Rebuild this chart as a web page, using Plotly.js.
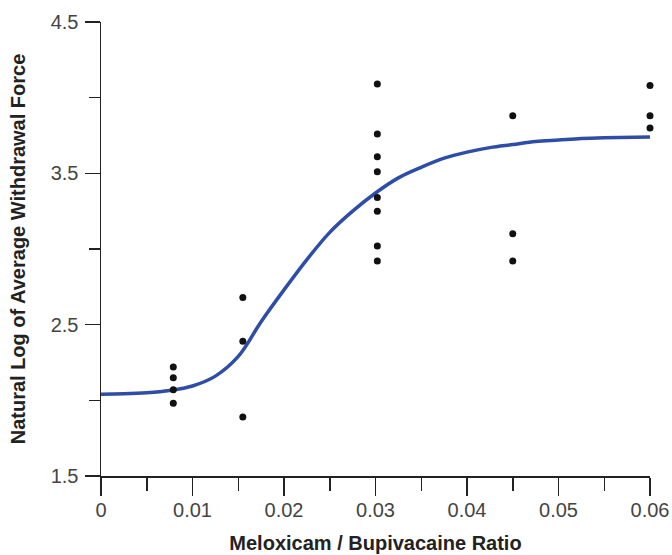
<!DOCTYPE html>
<html>
<head>
<meta charset="utf-8">
<script src="https://cdn.plot.ly/plotly-3.0.1.min.js"></script>
<style>html,body{margin:0;padding:0;background:#fff;}#chart{width:672px;height:555px;}</style>
</head>
<body>
<div id="chart"></div>
<script>
// Observed data points (ratio, ln of average withdrawal force)
const pointRatio = [
  0.0079, 0.0079, 0.0079, 0.0079,
  0.0155, 0.0155, 0.0155,
  0.0302, 0.0302, 0.0302, 0.0302, 0.0302, 0.0302, 0.0302, 0.0302,
  0.045, 0.045, 0.045,
  0.06, 0.06, 0.06
];
const pointLogForce = [
  2.22, 2.15, 2.07, 1.98,
  2.68, 2.39, 1.89,
  4.09, 3.76, 3.61, 3.51, 3.34, 3.25, 3.02, 2.92,
  3.88, 3.10, 2.92,
  4.08, 3.88, 3.80
];
// Fitted curve
const curveRatio = [0, 0.0025, 0.005, 0.0075, 0.010, 0.0125, 0.015, 0.0175, 0.020, 0.0225, 0.025, 0.0275, 0.030, 0.0325, 0.035, 0.0375, 0.040, 0.0425, 0.045, 0.0475, 0.050, 0.0525, 0.055, 0.060];
const curveLogForce = [2.04, 2.043, 2.05, 2.065, 2.095, 2.16, 2.29, 2.52, 2.73, 2.93, 3.11, 3.25, 3.37, 3.47, 3.54, 3.60, 3.64, 3.67, 3.69, 3.71, 3.72, 3.73, 3.735, 3.74];

const xTickVals = [0, 0.01, 0.02, 0.03, 0.04, 0.05, 0.06];
const xTickText = ['0', '0.01', '0.02', '0.03', '0.04', '0.05', '0.06'];
const yTickVals = [1.5, 2.5, 3.5, 4.5];
const yTickText = ['1.5', '2.5', '3.5', '4.5'];

const xTitle = 'Meloxicam / Bupivacaine Ratio';
const yTitle = 'Natural Log of Average Withdrawal Force';

const font = '"Liberation Sans", Arial, sans-serif';

const traces = [
  {
    x: curveRatio, y: curveLogForce, type: 'scatter', mode: 'lines',
    line: {color: '#2d4da6', width: 3.5, shape: 'spline', smoothing: 1},
    hoverinfo: 'skip', cliponaxis: false
  },
  {
    x: pointRatio, y: pointLogForce, type: 'scatter', mode: 'markers',
    marker: {color: '#111111', size: 7, symbol: 'circle'},
    cliponaxis: false
  }
];

const layout = {
  width: 672, height: 555,
  margin: {l: 101, r: 22, t: 22, b: 79},
  paper_bgcolor: '#ffffff', plot_bgcolor: '#ffffff',
  showlegend: false,
  font: {family: font, color: '#333333'},
  xaxis: {
    range: [0, 0.06], showgrid: false, zeroline: false,
    showline: true, linecolor: '#222222', linewidth: 1.5,
    ticks: 'outside', ticklen: 18, tickwidth: 1.5, tickcolor: '#222222',
    tickmode: 'array', tickvals: xTickVals, ticktext: xTickText,
    tickfont: {size: 20, color: '#444444', family: font},
    ticklabelstandoff: -3,
    minor: {ticks: 'outside', ticklen: 13, tickwidth: 1.5, tickcolor: '#222222', dtick: 0.005, tick0: 0, showgrid: false},
    title: {text: xTitle, font: {size: 20, color: '#222222', family: font, weight: 'bold'}, standoff: 16},
    automargin: false, fixedrange: true
  },
  yaxis: {
    range: [1.5, 4.5], showgrid: false, zeroline: false,
    showline: true, linecolor: '#222222', linewidth: 1.5,
    ticks: 'outside', ticklen: 15, tickwidth: 1.5, tickcolor: '#222222',
    tickmode: 'array', tickvals: yTickVals, ticktext: yTickText,
    tickfont: {size: 20, color: '#444444', family: font},
    ticklabelstandoff: 2,
    minor: {ticks: 'outside', ticklen: 11, tickwidth: 1.5, tickcolor: '#222222', dtick: 0.5, tick0: 1.5, showgrid: false},
    title: {text: yTitle, font: {size: 20, color: '#222222', family: font, weight: 'bold'}, standoff: 19},
    automargin: false, fixedrange: true
  }
};

Plotly.newPlot('chart', traces, layout, {staticPlot: true, displayModeBar: false});
</script>
</body>
</html>
